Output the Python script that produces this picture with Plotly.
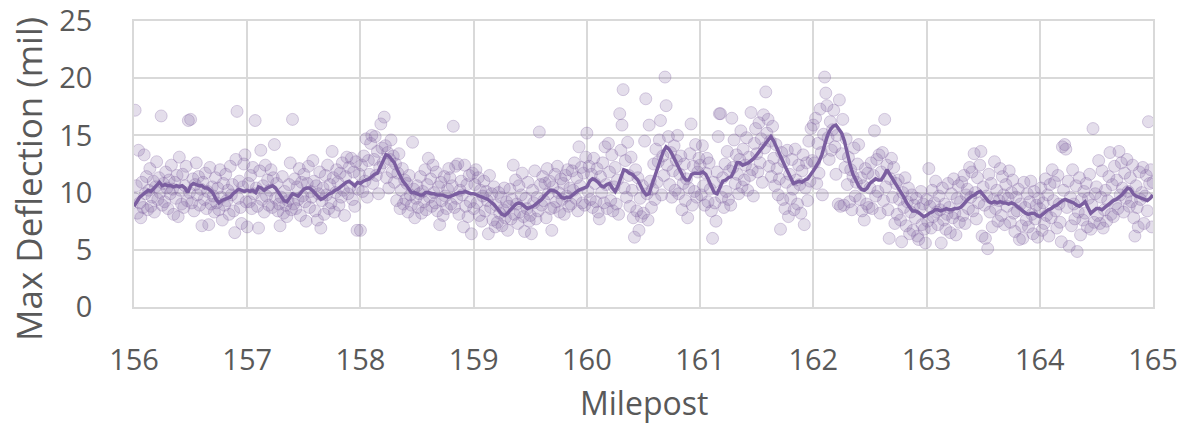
import numpy as np
import plotly.graph_objects as go

# ---------------- data ----------------
# Individual FWD max deflection readings (mil), one every 0.01 mile, per mile segment
defl_156 = [9.5, 17.2, 10.6, 8.2, 13.7, 9.1, 7.8, 10.9, 8.7, 13.3,
            9.9, 11.4, 8.5, 10.2, 12.1, 8.8, 9.6, 11.0, 8.3, 10.5,
            12.7, 9.4, 11.3, 10.0, 16.7, 8.9, 10.8, 9.2, 11.8, 10.4,
            8.6, 11.1, 9.9, 12.4, 10.3, 8.1, 10.9, 9.5, 11.5, 7.9,
            13.1, 10.2, 9.0, 11.6, 8.7, 10.6, 12.3, 9.3, 16.3, 10.0,
            16.4, 9.1, 11.2, 8.4, 10.7, 12.6, 9.8, 11.4, 8.9, 10.3,
            7.1, 10.9, 9.4, 11.7, 8.6, 10.1, 7.2, 12.2, 9.0, 10.5,
            9.7, 8.3, 11.3, 9.1, 10.4, 8.5, 12.0, 9.6, 7.6, 10.8,
            8.9, 11.6, 9.3, 10.2, 8.1, 12.3, 9.8, 10.7, 8.4, 6.5,
            12.9, 17.1, 9.5, 11.0, 8.7, 7.3, 10.5, 12.5, 13.3, 9.2]
defl_157 = [7.0, 10.8, 9.2, 11.5, 8.6, 12.2, 9.9, 16.3, 10.4, 8.8,
            6.9, 11.9, 13.7, 9.4, 10.6, 8.3, 12.4, 9.7, 11.1, 8.9,
            10.2, 12.0, 8.7, 11.3, 14.2, 9.5, 10.8, 8.4, 9.0, 7.1,
            9.6, 11.4, 8.2, 10.1, 8.9, 7.9, 9.3, 10.7, 12.6, 8.5,
            16.4, 9.0, 11.2, 8.6, 10.5, 9.4, 12.1, 8.0, 10.9, 9.7,
            11.6, 9.2, 7.5, 10.8, 12.3, 8.7, 10.1, 9.6, 12.8, 11.0,
            8.4, 10.6, 7.6, 9.9, 11.8, 6.9, 9.3, 10.4, 8.1, 11.5,
            9.8, 12.4, 8.6, 10.7, 9.1, 13.6, 11.3, 8.3, 10.0, 12.0,
            10.9, 8.9, 11.7, 9.6, 12.6, 10.2, 8.0, 11.4, 13.1, 9.9,
            12.2, 10.5, 13.0, 9.4, 11.8, 8.8, 12.7, 6.7, 10.3, 11.6]
defl_158 = [6.7, 12.4, 10.1, 13.2, 11.0, 14.7, 9.6, 12.8, 11.6, 14.3,
            15.0, 10.8, 12.9, 14.9, 11.5, 13.6, 9.9, 12.2, 16.0, 13.9,
            12.6, 16.6, 14.1, 11.3, 13.5, 10.4, 12.9, 14.6, 11.8, 13.2,
            10.9, 12.5, 9.3, 11.7, 13.4, 8.6, 10.2, 12.1, 9.0, 11.1,
            9.4, 10.8, 8.3, 11.5, 9.8, 8.9, 14.4, 10.3, 7.8, 9.5,
            10.6, 8.7, 9.9, 11.4, 8.2, 10.1, 9.2, 12.0, 8.5, 10.7,
            13.0, 9.6, 11.2, 8.8, 12.4, 10.0, 9.1, 11.8, 8.4, 10.5,
            7.2, 10.9, 9.3, 8.0, 11.4, 9.7, 8.6, 10.3, 12.1, 11.3,
            9.0, 10.6, 15.8, 8.7, 12.3, 9.5, 12.5, 8.1, 10.2, 11.0,
            9.8, 7.0, 12.4, 8.8, 10.7, 7.9, 11.5, 9.2, 6.4, 11.7]
defl_159 = [8.6, 10.7, 12.0, 9.1, 11.3, 8.0, 10.2, 7.5, 9.7, 11.0,
            8.4, 10.1, 9.3, 6.4, 11.5, 8.7, 9.9, 7.6, 10.5, 7.0,
            8.9, 7.4, 10.0, 8.2, 9.6, 7.1, 8.5, 10.4, 7.8, 9.2,
            6.7, 8.8, 10.3, 7.7, 9.4, 12.4, 8.1, 11.1, 9.0, 7.3,
            10.6, 8.3, 9.8, 11.7, 7.9, 6.6, 9.5, 8.6, 10.9, 7.5,
            8.0, 6.4, 10.2, 9.1, 11.9, 7.7, 9.6, 8.4, 15.3, 10.7,
            8.9, 11.4, 9.3, 10.8, 7.8, 12.1, 9.9, 11.0, 8.6, 6.7,
            10.5, 8.7, 11.6, 9.2, 12.3, 10.0, 8.3, 11.2, 9.4, 10.8,
            8.1, 11.5, 9.7, 12.0, 8.8, 10.4, 9.0, 11.9, 10.2, 12.6,
            9.5, 11.3, 8.4, 14.0, 10.6, 12.2, 9.1, 11.7, 8.9, 13.1]
defl_160 = [15.2, 10.1, 12.3, 9.4, 11.6, 8.7, 13.0, 10.8, 9.2, 12.1,
            8.3, 7.7, 11.4, 10.0, 12.6, 9.1, 14.0, 10.7, 8.6, 14.3,
            11.8, 9.3, 13.3, 8.4, 10.5, 12.2, 9.0, 11.1, 8.1, 16.9,
            13.7, 15.9, 19.0, 10.4, 12.8, 9.6, 14.4, 11.5, 8.8, 13.1,
            10.2, 7.8, 6.1, 12.0, 8.4, 11.3, 6.7, 9.5, 7.9, 10.6,
            8.2, 14.5, 18.2, 9.9, 7.6, 15.9, 11.0, 8.7, 10.3, 12.5,
            9.4, 13.8, 10.9, 12.7, 14.6, 16.3, 9.8, 13.2, 11.5, 20.1,
            17.6, 12.4, 14.9, 10.7, 13.5, 9.6, 11.9, 14.1, 10.2, 12.8,
            15.0, 9.9, 11.6, 13.2, 8.5, 10.8, 12.5, 9.3, 11.2, 7.8,
            10.4, 13.4, 16.0, 8.9, 12.3, 10.1, 14.2, 9.6, 11.8, 13.0]
defl_161 = [12.4, 9.8, 14.1, 10.6, 8.9, 11.7, 13.0, 9.2, 12.6, 10.3,
            8.4, 6.0, 10.9, 9.1, 7.5, 11.8, 14.9, 16.9, 16.9, 9.6,
            11.3, 8.7, 12.5, 10.1, 13.6, 9.4, 11.9, 8.9, 16.5, 12.2,
            14.6, 10.8, 13.3, 11.6, 9.9, 12.9, 15.4, 10.5, 13.8, 11.1,
            12.4, 14.8, 10.2, 13.1, 11.5, 17.0, 12.0, 9.7, 14.3, 15.6,
            13.4, 11.8, 16.1, 12.6, 14.7, 10.9, 16.8, 13.9, 18.8, 15.2,
            16.4, 12.3, 14.5, 11.4, 15.8, 13.0, 10.6, 14.2, 12.1, 9.8,
            11.2, 6.8, 13.5, 9.4, 12.7, 8.6, 10.9, 13.7, 7.9, 11.6,
            9.5, 12.9, 10.3, 8.5, 13.8, 11.1, 9.0, 12.4, 10.7, 8.2,
            11.9, 13.3, 7.2, 10.4, 12.6, 9.3, 14.5, 11.0, 15.6, 12.8]
defl_162 = [15.9, 12.6, 16.5, 10.8, 14.3, 11.7, 17.3, 13.5, 9.8, 15.1,
            20.1, 18.7, 17.6, 14.8, 12.9, 16.2, 13.7, 15.5, 17.2, 14.0,
            11.6, 15.0, 9.0, 18.1, 8.8, 13.4, 16.4, 8.9, 12.2, 14.7,
            10.7, 13.1, 9.2, 12.0, 8.5, 11.4, 13.9, 9.7, 10.9, 12.5,
            14.2, 9.4, 11.3, 8.4, 10.6, 7.6, 12.1, 9.0, 11.7, 8.7,
            10.4, 12.6, 8.6, 11.5, 15.4, 9.7, 12.9, 10.1, 13.3, 8.2,
            11.8, 13.5, 9.3, 16.4, 10.5, 12.4, 8.5, 6.0, 11.2, 13.0,
            9.6, 12.2, 7.3, 10.8, 8.1, 11.1, 9.4, 7.6, 5.7, 10.0,
            8.7, 11.3, 7.1, 9.2, 10.4, 6.4, 8.3, 9.8, 6.7, 8.9,
            7.8, 9.5, 6.2, 5.9, 8.6, 10.1, 7.2, 9.0, 6.8, 5.6]
defl_163 = [9.4, 7.5, 12.1, 8.8, 6.9, 10.2, 7.9, 9.1, 11.0, 8.3,
            7.2, 9.7, 8.5, 5.6, 10.4, 7.6, 9.0, 6.8, 8.1, 10.8,
            8.7, 6.5, 9.9, 7.8, 11.2, 8.2, 6.3, 9.5, 10.6, 7.4,
            9.2, 10.9, 8.0, 11.5, 7.3, 9.8, 10.3, 8.6, 12.2, 9.6,
            11.8, 8.4, 13.4, 10.0, 7.7, 11.3, 9.1, 12.4, 13.6, 6.2,
            10.5, 8.9, 6.0, 9.7, 5.1, 11.6, 8.3, 10.8, 7.0, 9.4,
            12.7, 8.6, 10.2, 7.5, 9.3, 12.1, 8.0, 11.4, 9.8, 7.2,
            10.7, 8.8, 9.5, 11.9, 7.4, 10.0, 11.1, 8.2, 6.6, 9.6,
            8.4, 10.3, 5.9, 9.0, 7.1, 6.0, 10.9, 8.7, 7.6, 9.9,
            7.0, 9.2, 11.0, 8.1, 6.4, 10.1, 7.7, 8.9, 6.1, 9.5]
defl_164 = [8.6, 10.4, 6.7, 9.1, 7.3, 11.2, 8.0, 9.8, 6.2, 10.7,
            7.8, 12.0, 9.3, 10.9, 8.4, 6.9, 11.5, 9.0, 7.4, 5.7,
            14.0, 10.2, 14.2, 13.8, 8.7, 11.0, 5.3, 9.6, 7.1, 12.0,
            9.0, 7.7, 10.6, 4.85, 8.3, 11.3, 6.3, 9.4, 7.6, 10.1,
            8.2, 10.8, 7.0, 9.5, 11.6, 6.8, 8.9, 15.6, 7.4, 9.9,
            10.5, 8.0, 12.8, 7.3, 9.6, 11.9, 6.9, 8.5, 10.2, 7.5,
            9.3, 11.4, 13.5, 8.1, 10.7, 7.9, 12.3, 9.0, 11.1, 8.6,
            13.6, 9.8, 12.6, 10.4, 8.3, 11.7, 9.5, 12.9, 10.1, 8.8,
            11.3, 9.2, 12.4, 7.8, 6.2, 10.6, 8.7, 7.0, 11.8, 9.4,
            10.0, 12.2, 7.3, 9.7, 11.5, 8.4, 16.2, 10.8, 12.0, 7.0,
            10.9]
point_start, point_step = 156.0, 0.01

# Moving-average trend (mil), one value every 0.025 mile
trend_156 = [8.8, 9.2, 9.6, 9.8, 10.0, 10.2, 10.1, 10.4, 10.6, 10.9,
             10.6, 10.7, 10.6, 10.6, 10.5, 10.6, 10.5, 10.6, 10.4, 10.0,
             10.6, 10.8, 10.7, 10.6, 10.6, 10.4, 10.4, 10.2, 9.9, 9.4,
             9.1, 9.3, 9.4, 9.5, 9.6, 9.9, 10.1, 10.3, 10.2, 10.1]
trend_157 = [10.2, 10.1, 10.2, 10.0, 10.5, 10.4, 10.2, 10.4, 10.5, 10.6,
             10.4, 10.0, 9.6, 9.3, 9.2, 9.6, 9.9, 9.8, 9.7, 10.0,
             10.3, 10.4, 10.4, 10.2, 9.9, 9.6, 9.4, 9.5, 9.7, 9.9,
             10.0, 10.2, 10.3, 10.5, 10.7, 10.9, 11.0, 10.8, 10.6, 10.9]
trend_158 = [10.8, 11.0, 11.1, 11.2, 11.4, 11.6, 11.7, 12.2, 12.8, 13.3,
             13.2, 12.9, 12.6, 12.0, 11.5, 11.0, 10.7, 10.3, 10.0, 10.0,
             9.9, 9.8, 9.8, 10.0, 10.0, 9.9, 9.9, 9.8, 9.8, 9.8,
             9.7, 9.6, 9.7, 9.8, 9.9, 10.0, 10.0, 10.1, 10.0, 9.9]
trend_159 = [9.9, 9.8, 9.7, 9.6, 9.5, 9.4, 9.2, 9.0, 8.7, 8.4,
             8.1, 8.0, 8.2, 8.5, 8.8, 9.0, 9.1, 9.0, 8.8, 8.6,
             8.7, 8.8, 9.0, 9.2, 9.4, 9.7, 10.0, 10.2, 10.2, 10.1,
             9.9, 9.6, 9.5, 9.6, 9.6, 9.8, 10.0, 10.2, 10.3, 10.4]
trend_160 = [10.5, 11.0, 11.2, 11.1, 10.9, 10.6, 10.5, 10.7, 10.8, 10.4,
             10.1, 10.6, 11.4, 12.0, 11.9, 11.7, 11.6, 11.3, 11.1, 10.6,
             10.1, 9.8, 9.9, 10.7, 11.4, 12.1, 12.8, 13.6, 14.0, 13.8,
             13.4, 12.9, 12.4, 11.9, 11.4, 11.1, 11.1, 11.6, 11.7, 11.7]
trend_161 = [11.7, 11.8, 11.6, 11.1, 10.5, 10.0, 9.9, 10.5, 11.0, 11.1,
             11.3, 11.4, 11.9, 12.6, 12.6, 12.4, 12.5, 12.6, 12.8, 13.0,
             13.3, 13.6, 13.9, 14.2, 14.5, 14.9, 14.5, 13.9, 13.3, 12.8,
             12.3, 11.8, 11.2, 10.8, 10.9, 11.0, 10.9, 11.1, 11.2, 11.5]
trend_162 = [11.9, 12.3, 12.7, 13.3, 14.2, 15.0, 15.5, 15.8, 15.9, 15.6,
             15.2, 14.5, 13.4, 12.4, 11.6, 11.0, 10.6, 10.3, 10.2, 10.4,
             10.8, 11.0, 11.2, 11.1, 11.1, 11.5, 12.0, 11.6, 11.2, 10.9,
             10.5, 10.1, 9.6, 9.1, 8.7, 8.4, 8.4, 8.3, 8.1, 7.9]
trend_163 = [8.0, 8.2, 8.3, 8.5, 8.5, 8.4, 8.5, 8.6, 8.5, 8.5,
             8.6, 8.6, 8.7, 9.0, 9.3, 9.5, 9.7, 9.8, 10.0, 10.1,
             9.8, 9.5, 9.2, 9.1, 9.2, 9.1, 9.2, 9.1, 9.1, 9.0,
             9.1, 9.0, 8.8, 8.6, 8.4, 8.2, 8.1, 8.2, 8.2, 8.0]
trend_164 = [7.9, 8.1, 8.3, 8.5, 8.6, 8.8, 8.9, 9.1, 9.3, 9.4,
             9.3, 9.2, 9.1, 8.9, 8.8, 9.0, 9.2, 8.7, 8.2, 8.4,
             8.6, 8.6, 8.5, 8.7, 8.9, 9.1, 9.3, 9.4, 9.6, 9.8,
             10.1, 10.4, 10.3, 9.9, 9.7, 9.6, 9.5, 9.4, 9.3, 9.5,
             9.8]
trend_start, trend_step = 156.0, 0.025

x_ticks = [156, 157, 158, 159, 160, 161, 162, 163, 164, 165]
y_ticks = [0, 5, 10, 15, 20, 25]
x_title = "Milepost"
y_title = "Max Deflection (mil)"

# ---------------- build ----------------
points = (defl_156 + defl_157 + defl_158 + defl_159 + defl_160 +
          defl_161 + defl_162 + defl_163 + defl_164)
trend = (trend_156 + trend_157 + trend_158 + trend_159 + trend_160 +
         trend_161 + trend_162 + trend_163 + trend_164)
px = np.round(point_start + point_step * np.arange(len(points)), 3)
tx = np.round(trend_start + trend_step * np.arange(len(trend)), 3)

GRID = "#D9D9D9"
TXT = "#595959"
FONT = "Open Sans"

fig = go.Figure()
fig.add_trace(go.Scatter(
    x=px, y=points, mode="markers",
    marker=dict(size=12, color="rgba(128,100,162,0.21)",
                line=dict(color="rgba(128,100,162,0.30)", width=1)),
    showlegend=False, hoverinfo="skip"))
fig.add_trace(go.Scatter(
    x=tx, y=trend, mode="lines",
    line=dict(color="rgb(123,94,160)", width=3.5),
    showlegend=False))

fig.update_layout(
    width=1187, height=425,
    margin=dict(l=134, r=34, t=21, b=118, autoexpand=False),
    paper_bgcolor="white", plot_bgcolor="white",
    font=dict(family=FONT, color=TXT),
    xaxis=dict(range=[156, 165], tickvals=x_ticks, ticktext=[str(v) for v in x_ticks],
               showgrid=True, gridcolor=GRID, gridwidth=1.5,
               showline=True, linecolor=GRID, linewidth=1.5, mirror=True,
               zeroline=False, ticks="", ticklabelstandoff=26, automargin=False,
               tickfont=dict(size=29, family=FONT, color=TXT)),
    yaxis=dict(range=[0, 25], tickvals=y_ticks, ticktext=[str(v) for v in y_ticks],
               showgrid=True, gridcolor=GRID, gridwidth=1.5,
               showline=True, linecolor=GRID, linewidth=1.5, mirror=True,
               zeroline=False, ticks="", ticklabelstandoff=34, automargin=False,
               tickfont=dict(size=29, family=FONT, color=TXT)),
    annotations=[
        dict(text=x_title, xref="paper", yref="paper", x=0.5, y=0,
             xanchor="center", yanchor="middle", yshift=-95, showarrow=False,
             font=dict(size=32, family=FONT, color=TXT)),
        dict(text=y_title, xref="paper", yref="paper", x=0, y=0.5,
             xanchor="center", yanchor="middle", xshift=-106, yshift=-15,
             textangle=-90, showarrow=False,
             font=dict(size=35, family=FONT, color=TXT)),
    ],
)

fig.write_html("out.html")
